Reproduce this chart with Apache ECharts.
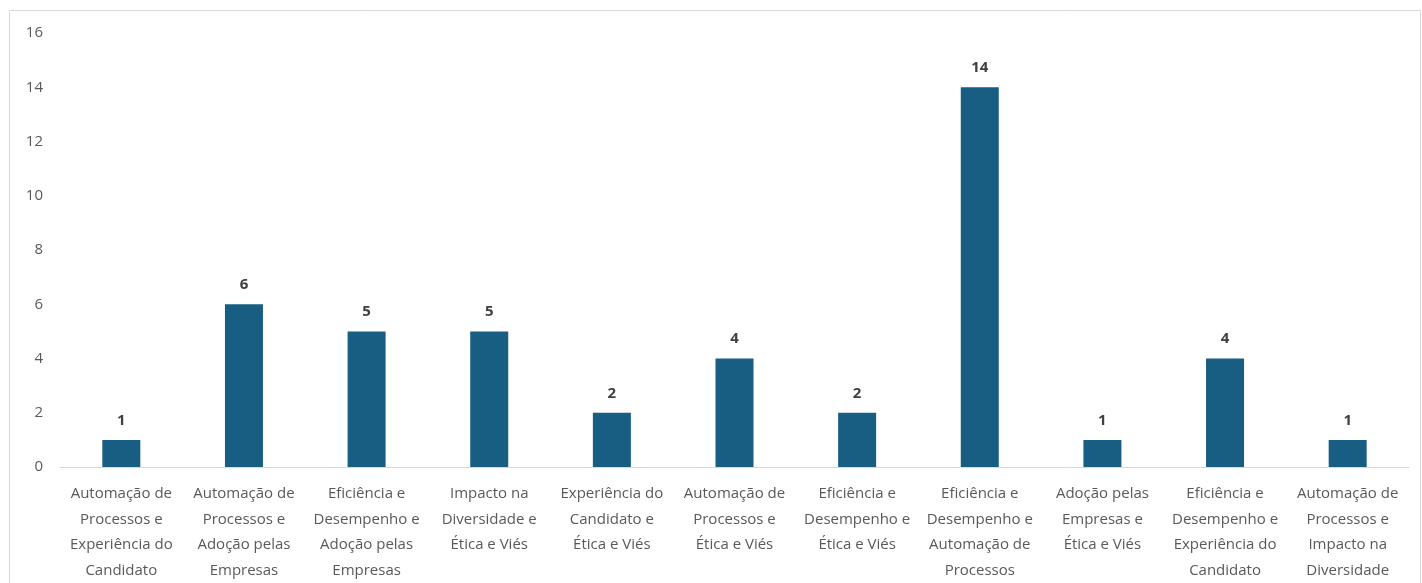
<!DOCTYPE html>
<html><head><meta charset="utf-8">
<script src="https://cdn.jsdelivr.net/npm/echarts@6/dist/echarts.min.js"></script>
<style>html,body{margin:0;padding:0;background:#fff}#c{width:1422px;height:583px}</style>
</head><body><div id="c"></div>
<script>
const categories = [
  "Automação de\nProcessos e\nExperiência do\nCandidato",
  "Automação de\nProcessos e\nAdoção pelas\nEmpresas",
  "Eficiência e\nDesempenho e\nAdoção pelas\nEmpresas",
  "Impacto na\nDiversidade e\nÉtica e Viés",
  "Experiência do\nCandidato e\nÉtica e Viés",
  "Automação de\nProcessos e\nÉtica e Viés",
  "Eficiência e\nDesempenho e\nÉtica e Viés",
  "Eficiência e\nDesempenho e\nAutomação de\nProcessos",
  "Adoção pelas\nEmpresas e\nÉtica e Viés",
  "Eficiência e\nDesempenho e\nExperiência do\nCandidato",
  "Automação de\nProcessos e\nImpacto na\nDiversidade"
];
const values = [1, 6, 5, 5, 2, 4, 2, 14, 1, 4, 1];
const yTicks = {min: 0, max: 16, interval: 2};

const chart = echarts.init(document.getElementById('c'));
chart.setOption({
  animation: false,
  graphic: [{type: 'rect', shape: {x: 9.5, y: 10.5, width: 1411, height: 580}, style: {fill: 'none', stroke: '#d9d9d9', lineWidth: 1}, z: -1}],
  grid: {left: 60, right: 13, top: 33, bottom: 113},
  xAxis: {
    type: 'category', data: categories,
    axisLine: {lineStyle: {color: '#d9d9d9'}},
    axisTick: {show: false},
    axisLabel: {interval: 0, color: '#595959', fontSize: 15, fontFamily: 'Open Sans', lineHeight: 25.5, margin: 14}
  },
  yAxis: {
    type: 'value', min: yTicks.min, max: yTicks.max, interval: yTicks.interval,
    splitLine: {show: false},
    axisLine: {show: false}, axisTick: {show: false},
    axisLabel: {color: '#595959', fontSize: 15, fontFamily: 'Open Sans', margin: 17}
  },
  series: [{
    type: 'bar', data: values, barWidth: 38,
    itemStyle: {color: '#175E82'},
    label: {show: true, position: 'top', distance: 12, color: '#404040', fontSize: 15, fontWeight: 'bold', fontFamily: 'Open Sans'}
  }]
});
</script></body></html>
